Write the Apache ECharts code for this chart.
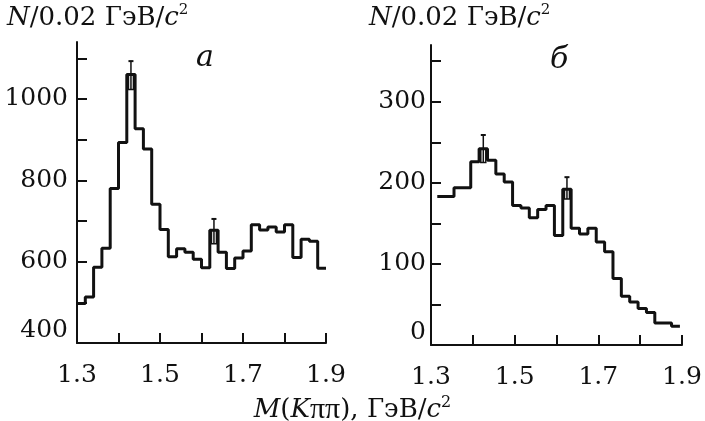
<!DOCTYPE html>
<html>
<head>
<meta charset="utf-8">
<script src="https://cdn.jsdelivr.net/npm/echarts@6/dist/echarts.min.js"></script>
<style>
  html, body { margin: 0; padding: 0; background: #fff; }
  #chart { width: 705px; height: 421px; }
</style>
</head>
<body>
<div id="chart"></div>
<script>
// bin width 0.02 GeV/c^2
const binWidth = 0.02;

// panel a
const startA = 1.30;
const countsA = [497, 513, 586, 633, 780, 893, 1060, 927, 877, 741, 679, 612, 632, 623, 606,
                 585, 677, 623, 583, 609, 626, 691, 678, 685, 673, 691, 610, 655, 650, 584];
const errMassA = [1.43, 1.63];
const errValA = [1060, 677];
const errLowA = [1023, 644];
const errHighA = [1093, 705];

// panel b
const startB = 1.315;
const countsB = [183, 183, 194, 194, 226, 242, 228, 211, 201, 172, 169, 157, 167, 172, 135,
                 192, 144, 137, 144, 127, 115, 82, 60, 53, 45, 40, 27, 27, 23];
const errMassB = [1.425, 1.625];
const errValB = [242, 192];
const errLowB = [225, 180];
const errHighB = [259, 207];

// axis ticks / labels
const massTicks = [1.3, 1.4, 1.5, 1.6, 1.7, 1.8, 1.9];
const massLabels = [1.3, 1.5, 1.7, 1.9];
const yTicksA = [400, 500, 600, 700, 800, 900, 1000, 1100];
const yLabelsA = [400, 600, 800, 1000];
const yTicksB = [0, 50, 100, 150, 200, 250, 300, 350];
const yLabelsB = [0, 100, 200, 300];

const ink = '#111';
const serif = 'DejaVu Serif';
const times = 'Liberation Serif';

function steps(start, counts) {
    const pts = [];
    counts.forEach((c, i) => {
        const x0 = +(start + i * binWidth).toFixed(4);
        const x1 = +(start + (i + 1) * binWidth).toFixed(4);
        pts.push([x0, c], [x1, c]);
    });
    return pts;
}

function errData(mass, val, lo, hi) {
    return mass.map((m, i) => [m, val[i], lo[i], hi[i]]);
}

function renderErr(params, api) {
    const x = api.value(0);
    const pV = api.coord([x, api.value(1)]);
    const pL = api.coord([x, api.value(2)]);
    const pH = api.coord([x, api.value(3)]);
    const w = 2.5;
    return {
        type: 'group',
        children: [
            { type: 'line', shape: { x1: pL[0], y1: pL[1], x2: pH[0], y2: pH[1] },
              style: { stroke: ink, lineWidth: 1.5 } },
            { type: 'line', shape: { x1: pH[0] - w, y1: pH[1], x2: pH[0] + w, y2: pH[1] },
              style: { stroke: ink, lineWidth: 2 } },
            { type: 'rect', shape: { x: pV[0] - w, y: pV[1], width: 2 * w, height: pL[1] - pV[1] },
              style: { fill: 'none', stroke: ink, lineWidth: 1.5 } }
        ]
    };
}

function xAxis(gridIndex) {
    return {
        type: 'value', gridIndex: gridIndex, min: 1.3, max: 1.9,
        axisLine: { lineStyle: { color: ink, width: 2 } },
        axisTick: { inside: true, length: 10, customValues: massTicks, lineStyle: { color: ink, width: 2 } },
        axisLabel: { customValues: massLabels, margin: 20, color: ink, fontFamily: serif, fontSize: 25,
                     formatter: v => v.toFixed(1) },
        splitLine: { show: false }
    };
}

function yAxis(gridIndex, min, max, ticks, labels, margin) {
    return {
        type: 'value', gridIndex: gridIndex, min: min, max: max,
        axisLine: { lineStyle: { color: ink, width: 2 } },
        axisTick: { inside: true, length: 10, customValues: ticks, lineStyle: { color: ink, width: 2 } },
        axisLabel: { customValues: labels, margin: margin, color: ink, fontFamily: serif, fontSize: 25,
                     verticalAlignMinLabel: 'bottom', formatter: v => String(v) },
        splitLine: { show: false }
    };
}

function unitTitle(left) {
    return {
        text: '{i|N}{t|/0.02 ГэВ/}{i|c}{s|2}',
        left: left, top: 3, padding: 0,
        textStyle: {
            fontWeight: 'normal',
            rich: {
                i: { fontFamily: serif, fontStyle: 'italic', fontWeight: 'normal', fontSize: 26, color: ink, lineHeight: 30 },
                t: { fontFamily: serif, fontWeight: 'normal', fontSize: 26, color: ink, lineHeight: 30 },
                s: { fontFamily: serif, fontWeight: 'normal', fontSize: 15, color: ink, verticalAlign: 'top', lineHeight: 15 }
            }
        }
    };
}

const chart = echarts.init(document.getElementById('chart'));

chart.setOption({
    backgroundColor: '#fff',
    animation: false,
    title: [unitTitle(7), unitTitle(369)],
    grid: [
        { left: 77, right: 379, top: 42, bottom: 78, containLabel: false, outerBoundsMode: 'none' },
        { left: 431, right: 23, top: 45, bottom: 76, containLabel: false, outerBoundsMode: 'none' }
    ],
    xAxis: [xAxis(0), xAxis(1)],
    yAxis: [
        yAxis(0, 400, 1140, yTicksA, yLabelsA, 9),
        yAxis(1, 0, 370, yTicksB, yLabelsB, 5)
    ],
    graphic: [
        { type: 'text', left: 196, top: 43,
          style: { text: 'а', font: 'italic 30px "DejaVu Serif"', fill: ink } },
        { type: 'text', left: 550, top: 45,
          style: { text: 'б', font: 'italic 30px "DejaVu Serif"', fill: ink } },
        { type: 'text', left: 'center', top: 395,
          style: {
              text: '{i|M}{t|(}{i|K}{p|ππ}{t|), ГэВ/}{i|c}{s|2}',
              rich: {
                  i: { fontFamily: serif, fontStyle: 'italic', fontSize: 26, fill: ink, lineHeight: 30 },
                  t: { fontFamily: serif, fontSize: 26, fill: ink, lineHeight: 30 },
                  p: { fontFamily: times, fontSize: 30, fill: ink, lineHeight: 30 },
                  s: { fontFamily: serif, fontSize: 16, fill: ink, verticalAlign: 'top', lineHeight: 16 }
              }
          } }
    ],
    series: [
        { type: 'line', xAxisIndex: 0, yAxisIndex: 0, data: steps(startA, countsA),
          showSymbol: false, lineStyle: { color: ink, width: 3 } },
        { type: 'line', xAxisIndex: 1, yAxisIndex: 1, data: steps(startB, countsB),
          showSymbol: false, lineStyle: { color: ink, width: 3 } },
        { type: 'custom', xAxisIndex: 0, yAxisIndex: 0, renderItem: renderErr,
          data: errData(errMassA, errValA, errLowA, errHighA) },
        { type: 'custom', xAxisIndex: 1, yAxisIndex: 1, renderItem: renderErr,
          data: errData(errMassB, errValB, errLowB, errHighB) }
    ]
});

window.addEventListener('resize', () => chart.resize());
</script>
</body>
</html>
